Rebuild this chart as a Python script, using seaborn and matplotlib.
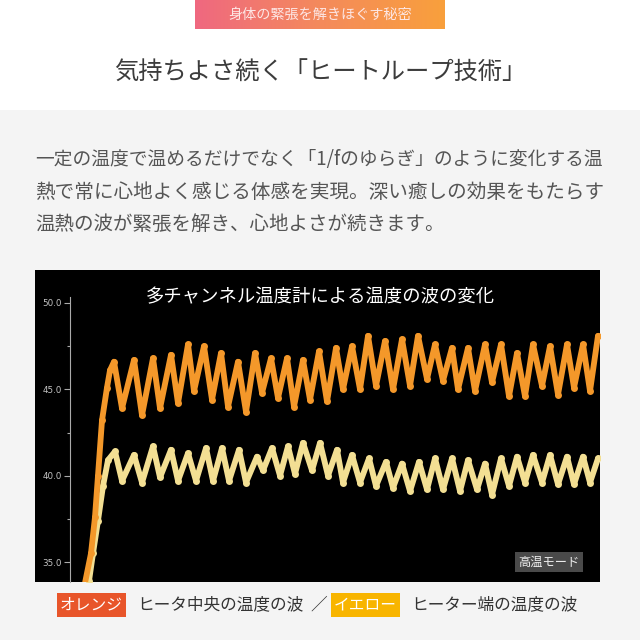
import numpy as np
import pandas as pd
import matplotlib
matplotlib.use("Agg")
import matplotlib.pyplot as plt
from matplotlib.patches import Rectangle
from matplotlib.colors import LinearSegmentedColormap
from matplotlib.ticker import FixedLocator, FormatStrFormatter
import seaborn as sns

# ---------------- data ----------------
banner_text = "身体の緊張を解きほぐす秘密"
title_text = "気持ちよさ続く「ヒートループ技術」"
para_lines = [
    "一定の温度で温めるだけでなく「1/fのゆらぎ」のように変化する温",
    "熱で常に心地よく感じる体感を実現。深い癒しの効果をもたらす",
    "温熱の波が緊張を解き、心地よさが続きます。",
]
chart_title = "多チャンネル温度計による温度の波の変化"
mode_label = "高温モード"
legend_orange_tag = "オレンジ"
legend_orange_text = "ヒータ中央の温度の波"
legend_sep = "／"
legend_yellow_tag = "イエロー"
legend_yellow_text = "ヒーター端の温度の波"

y_major_ticks = [35.0, 40.0, 45.0, 50.0]
y_minor_ticks = [37.5, 42.5, 47.5]

# orange: heater centre temperature (time, °C) – rise then peaks/troughs
orange_t = [14, 21, 25, 28, 32, 37, 40,
            44, 52, 64, 72, 83, 90, 101, 108, 118, 124, 134, 142, 151, 158,
            168, 176, 185, 192, 201, 208, 217, 224, 233, 240, 249, 257, 266, 273,
            282, 290, 298, 306, 315, 323, 332, 340, 348, 357, 365, 373, 382, 388,
            398, 405, 415, 422, 431, 439, 447, 455, 463, 472, 480, 488, 497, 504,
            513, 520, 528]
orange_v = [33.5, 35.5, 37.6, 40.0, 43.2, 45.1, 46.1,
            46.6, 43.9, 46.7, 43.5, 46.8, 43.9, 47.0, 44.2, 47.6, 44.9, 47.5, 44.4, 47.1, 44.0,
            46.6, 43.7, 47.1, 44.8, 46.8, 44.5, 46.8, 44.0, 46.7, 44.4, 47.2, 44.3, 47.4, 45.0,
            47.5, 45.0, 48.1, 45.2, 47.8, 45.0, 47.9, 45.2, 48.1, 45.6, 47.6, 45.5, 47.4, 45.0,
            47.4, 44.9, 47.6, 45.4, 47.6, 44.6, 47.1, 44.6, 47.6, 45.2, 47.5, 44.7, 47.6, 45.1,
            47.6, 44.9, 48.1]

# yellow: heater edge temperature (time, °C)
yellow_t = [19, 23, 28, 33, 38,
            45, 52, 64, 72, 83, 90, 101, 108, 118, 126, 136, 143, 152, 159,
            169, 176, 187, 193, 202, 210, 218, 225, 233, 242, 250, 258, 267, 273,
            282, 290, 299, 306, 316, 323, 332, 340, 349, 357, 365, 373, 382, 390,
            398, 407, 415, 422, 431, 439, 447, 455, 463, 472, 480, 488, 497, 504,
            513, 520, 528]
yellow_v = [33.9, 35.5, 37.4, 39.4, 40.9,
            41.4, 39.7, 41.2, 39.6, 41.7, 39.9, 41.5, 39.7, 41.3, 39.7, 41.6, 39.7, 41.6, 39.7,
            41.5, 39.6, 41.1, 40.3, 41.6, 40.0, 41.7, 40.1, 41.9, 40.3, 41.9, 40.0, 41.5, 39.6,
            41.2, 39.6, 41.0, 39.4, 40.8, 39.3, 40.7, 39.1, 40.8, 39.2, 41.0, 39.2, 41.0, 39.1,
            40.9, 39.2, 40.7, 38.9, 41.0, 39.4, 41.1, 39.6, 41.2, 39.6, 41.2, 39.5, 41.1, 39.5,
            41.1, 39.6, 41.0]

# ---------------- style ----------------
sns.set_theme(style="white")
plt.rcParams["font.family"] = ["Noto Sans CJK JP", "DejaVu Sans"]

W, H = 640, 640
fig = plt.figure(figsize=(6.4, 6.4), dpi=100)
fig.patch.set_facecolor("#f4f4f4")

def fx(px):
    return px / W

def fy(py):
    return 1 - py / H

# white top band
fig.patches.append(Rectangle((0, fy(110)), 1, 110 / H, transform=fig.transFigure,
                             facecolor="white", edgecolor="none", zorder=-10))
# black chart box
fig.patches.append(Rectangle((fx(35), fy(582)), fx(565), (582 - 270) / H,
                             transform=fig.transFigure, facecolor="black",
                             edgecolor="none", zorder=-10))

# gradient banner
bax = fig.add_axes([fx(195), fy(29), fx(250), 29 / H])
grad_cmap = LinearSegmentedColormap.from_list("bn", ["#ef6880", "#f48a5c", "#f9a03c"])
bax.imshow(np.linspace(0, 1, 256)[None, :], aspect="auto", cmap=grad_cmap,
           extent=[0, 1, 0, 1])
bax.set_axis_off()
fig.text(0.5, fy(15), banner_text, ha="center", va="center", fontsize=10.2,
         color="#fde6e4", zorder=5)

# title
fig.text(0.5, fy(73), title_text, ha="center", va="center", fontsize=17.5,
         color="#3c3c3c")

# paragraph
para_sizes = [13.5, 14.1, 14.0]
para_ys = [160, 192, 224]
for line, fs, py in zip(para_lines, para_sizes, para_ys):
    fig.text(fx(35), fy(py), line, ha="left", va="center", fontsize=fs,
             color="#555555")

ax = fig.add_axes([fx(70), fy(582), fx(530), (582 - 297) / H])
ax.set_facecolor("black")

df_o = pd.DataFrame({"t": orange_t, "v": orange_v})
df_y = pd.DataFrame({"t": yellow_t, "v": yellow_v})
sns.lineplot(data=df_y, x="t", y="v", ax=ax, color="#f3df93", lw=4.2,
             marker="o", markersize=5, markeredgewidth=0,
             estimator=None, sort=False, solid_joinstyle="round")
sns.lineplot(data=df_o, x="t", y="v", ax=ax, color="#f4982a", lw=4.2,
             marker="o", markersize=5, markeredgewidth=0,
             estimator=None, sort=False, solid_joinstyle="round")

ax.set_xlim(0, 530)
ax.set_ylim(35 - 20 / 17.27, 50 + 6 / 17.27)
ax.set_xlabel("")
ax.set_ylabel("")
ax.set_xticks([])
ax.yaxis.set_major_locator(FixedLocator(y_major_ticks))
ax.yaxis.set_minor_locator(FixedLocator(y_minor_ticks))
ax.yaxis.set_major_formatter(FormatStrFormatter("%.1f"))
ax.tick_params(axis="y", which="major", direction="out", length=4, width=0.8,
               color="#aaaaaa", labelcolor="#c4c4c4", labelsize=6.3, pad=2, left=True)
ax.tick_params(axis="y", which="minor", direction="out", length=2, width=0.8,
               color="#aaaaaa", left=True)
for lab in ax.get_yticklabels():
    lab.set_fontfamily("DejaVu Sans")
for s in ["top", "right", "bottom"]:
    ax.spines[s].set_visible(False)
ax.spines["left"].set_color("#aaaaaa")
ax.spines["left"].set_linewidth(0.8)

fig.text(0.5, fy(297), chart_title, ha="center", va="center", fontsize=13.2,
         color="white")

fig.text(fx(549), fy(562), mode_label, ha="center", va="center", fontsize=8.8,
         color="#eeeeee",
         bbox=dict(boxstyle="square,pad=0.3", facecolor="#4a4a4a", edgecolor="none"))

# legend row
ly = fy(605)
fig.text(fx(60), ly, legend_orange_tag, ha="left", va="center", fontsize=11.3,
         color="white",
         bbox=dict(boxstyle="square,pad=0.22", facecolor="#e8552a", edgecolor="none"))
fig.text(fx(137), ly, legend_orange_text, ha="left", va="center", fontsize=12,
         color="#333333")
fig.text(fx(310), ly, legend_sep, ha="left", va="center", fontsize=12,
         color="#333333")
fig.text(fx(334), ly, legend_yellow_tag, ha="left", va="center", fontsize=11.3,
         color="white",
         bbox=dict(boxstyle="square,pad=0.22", facecolor="#f8b500", edgecolor="none"))
fig.text(fx(411), ly, legend_yellow_text, ha="left", va="center", fontsize=12,
         color="#333333")

fig.savefig("out.png", dpi=100, facecolor=fig.get_facecolor())
